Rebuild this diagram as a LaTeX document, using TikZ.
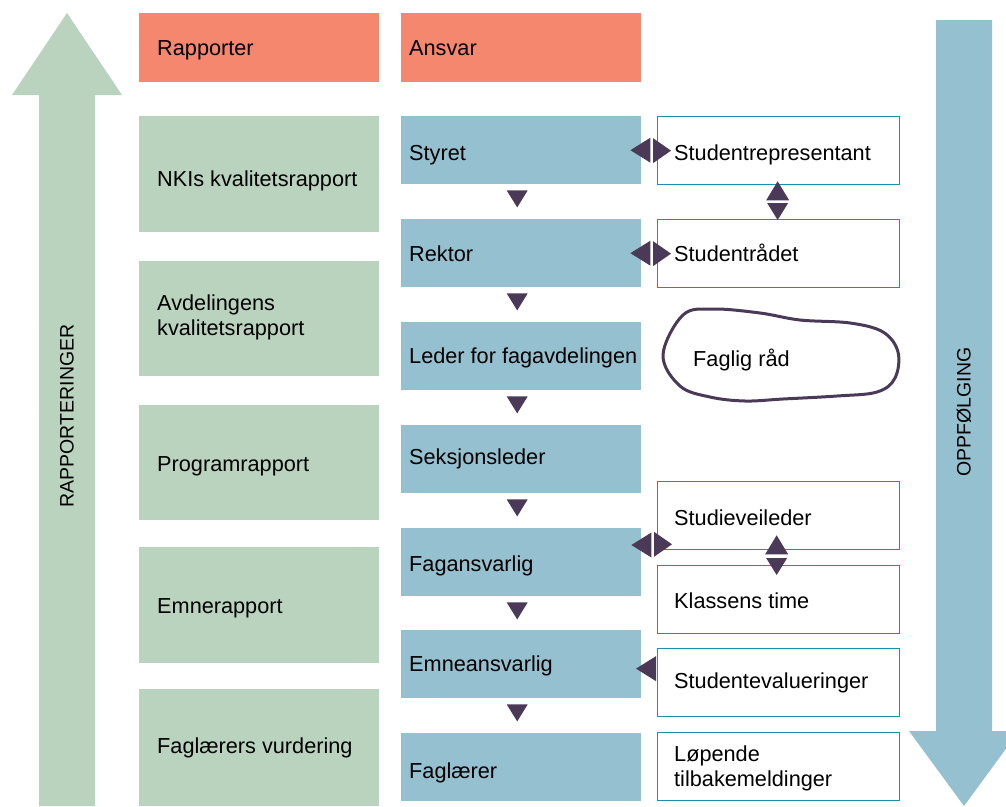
\documentclass[tikz,border=0pt]{standalone}
\usepackage{fontspec}
\setmainfont{Liberation Sans}
\usetikzlibrary{calc}
\definecolor{cgreen}{HTML}{B9D3BE}
\definecolor{csalmon}{HTML}{F4876E}
\definecolor{cblue}{HTML}{95C0CF}
\definecolor{cpurp}{HTML}{4A3A58}
\definecolor{cteal}{HTML}{1E8FA8}
\tikzset{
  base/.style={rectangle, minimum width=240pt, anchor=north west, inner sep=0pt},
  rbox/.style={base, fill=csalmon, minimum height=69pt},
  gbox/.style={base, fill=cgreen},
  bbox/.style={base, fill=cblue, minimum height=68pt},
  wbox/.style={base, draw=cteal, line width=1.3pt, fill=white, minimum width=242pt, minimum height=68pt},
  lbl/.style={anchor=base west, inner sep=0pt, font=\fontsize{21.7}{25}\selectfont},
  mlbl/.style={anchor=west, inner sep=0pt, align=left, font=\fontsize{21.7}{25}\selectfont},
  biglabel/.style={font=\fontsize{19.5}{22}\selectfont, rotate=90},
  tri/.style={fill=cpurp},
  downtri/.pic={\fill[tri] (-10.5,0) -- (10.5,0) -- (0,17) -- cycle;},
  uptri/.pic={\fill[tri] (-11.5,0) -- (11.5,0) -- (0,-19) -- cycle;},
  ltri/.pic={\fill[tri] (0,0) -- (20,-12.5) -- (20,12.5) -- cycle;},
  rtri/.pic={\fill[tri] (0,-12.5) -- (0,12.5) -- (18,0) -- cycle;}
}
\begin{document}
\begin{tikzpicture}[x=1pt,y=-1pt]
\useasboundingbox (0,0) rectangle (1006,806);
\clip (0,0) rectangle (1006,806);
% big arrows
\fill[cgreen] (39,806) -- (39,95) -- (12,95) -- (67,13) -- (122,95) -- (95,95) -- (95,806) -- cycle;
\node[biglabel] (rapp) at (67,416) {RAPPORTERINGER};
\fill[cblue] (936,20) -- (992,20) -- (992,731) -- (1019,731) -- (964,806) -- (909,731) -- (936,731) -- cycle;
\node[biglabel] (oppf) at (964,412) {OPPFØLGING};
% header
\node[rbox] (rapporter) at (139,13) {};
\node[lbl] (trapporter) at ($(rapporter.west)+(18,8)$) {Rapporter};
\node[rbox] (ansvar) at (401,13) {};
\node[lbl] (tansvar) at ($(ansvar.west)+(8,8)$) {Ansvar};
% green column
\node[gbox, minimum height=116pt] (nki) at (139,116) {};
\node[gbox, minimum height=115pt] (avd) at (139,261) {};
\node[gbox, minimum height=115pt] (prog) at (139,405) {};
\node[gbox, minimum height=116pt] (emne) at (139,547) {};
\node[gbox, minimum height=117pt] (fagv) at (139,689) {};
\node[lbl] (tnki) at ($(nki.west)+(18,12)$) {NKIs kvalitetsrapport};
\node[mlbl] (tavd) at (157,317) {Avdelingens\\kvalitetsrapport};
\node[lbl] (tprog) at ($(prog.west)+(18,8.5)$) {Programrapport};
\node[lbl] (temne) at ($(emne.west)+(18,8)$) {Emnerapport};
\node[lbl] (tfagv) at ($(fagv.west)+(18,6)$) {Faglærers vurdering};
% blue column
\node[bbox] (styret) at (401,116) {};
\node[bbox] (rektor) at (401,219) {};
\node[bbox] (leder) at (401,322) {};
\node[bbox] (seksjon) at (401,425) {};
\node[bbox] (fagansv) at (401,528) {};
\node[bbox] (emneansv) at (401,630) {};
\node[bbox] (faglaerer) at (401,733) {};
\node[lbl] (tstyret) at ($(styret.west)+(8,10)$) {Styret};
\node[lbl] (trektor) at ($(rektor.west)+(8,8)$) {Rektor};
\node[lbl] (tleder) at ($(leder.west)+(8,7)$) {Leder for fagavdelingen};
\node[lbl] (tseksjon) at ($(seksjon.west)+(8,5)$) {Seksjonsleder};
\node[lbl] (tfagansv) at ($(fagansv.west)+(8,9)$) {Fagansvarlig};
\node[lbl] (temneansv) at ($(emneansv.west)+(8,7)$) {Emneansvarlig};
\node[lbl] (tfaglaerer) at ($(faglaerer.west)+(8,11)$) {Faglærer};
% white column
\node[wbox] (studrep) at (657,116) {};
\node[wbox] (studraad) at (657,219) {};
\node[wbox] (studveil) at (657,481) {};
\node[wbox] (klasse) at (657,565) {};
\node[wbox] (studeval) at (657,648) {};
\node[wbox] (lopende) at (657,732) {};
\node[lbl] (tstudrep) at ($(studrep.west)+(17,10)$) {Studentrepresentant};
\node[lbl] (tstudraad) at ($(studraad.west)+(17,8)$) {Studentrådet};
\node[lbl] (tstudveil) at ($(studveil.west)+(17,10)$) {Studieveileder};
\node[lbl] (tklasse) at ($(klasse.west)+(17,9)$) {Klassens time};
\node[lbl] (tstudeval) at ($(studeval.west)+(17,6)$) {Studentevalueringer};
\node[mlbl] (tlopende) at (674,768.5) {Løpende\\tilbakemeldinger};
% Faglig raad blob
\draw[cpurp, line width=3pt] plot[smooth cycle, tension=0.6] coordinates {(663,355) (683,315) (713,309) (760,313) (800,320) (850,323) (883,332) (898,352) (895,378) (877,392) (837,396) (783,399) (745,401) (710,397) (680,386)};
\node[lbl] (faglig) at (693,366) {Faglig råd};
% down triangles between responsibility boxes
\foreach \a in {styret,rektor,leder,seksjon,fagansv,emneansv}
  \pic at ($(\a.south)+(-4,6)$) {downtri};
% horizontal double arrows
\pic at ($(styret.east)+(-11,0)$) {ltri};
\pic at ($(studrep.west)+(-4,0)$) {rtri};
\pic at ($(rektor.east)+(-11,0)$) {ltri};
\pic at ($(studraad.west)+(-4,0)$) {rtri};
\pic at ($(fagansv.north east)+(-10,17)$) {ltri};
\pic at ($(studveil.south west)+(-3,-6)$) {rtri};
\pic at ($(studeval.west)+(-21,-14)$) {ltri};
% vertical double arrows
\pic at ($(studrep.south)+(-1,15)$) {uptri};
\pic at ($(studraad.north)+(-1,-16)$) {downtri};
\pic at ($(studveil.south)+(-2,4)$) {uptri};
\pic at ($(klasse.north)+(-2,-7)$) {downtri};
\end{tikzpicture}
\end{document}
